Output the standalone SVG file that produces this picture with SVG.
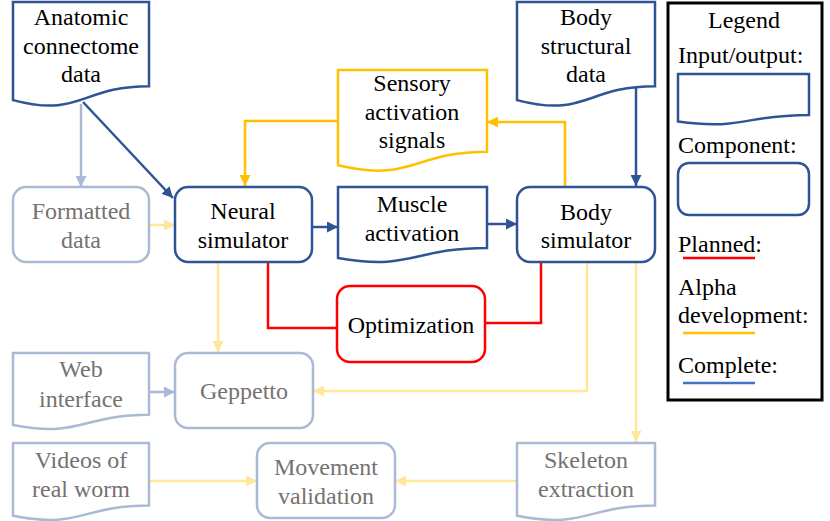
<svg xmlns="http://www.w3.org/2000/svg" width="830" height="521" viewBox="0 0 830 521" font-family="Liberation Serif, Times New Roman, serif">
<defs>
<style>
text{font-size:24px;text-anchor:middle;fill:#000}
.g{fill:#767171}
.l{text-anchor:start}
.nd{fill:#fff;stroke:#2F5496;stroke-width:2.5}
.nl{fill:#fff;stroke:#AAB9D4;stroke-width:2.5}
.no{fill:#fff;stroke:#FFC000;stroke-width:2.5}
.nr{fill:#fff;stroke:#FF0000;stroke-width:2.5}
.c{fill:none;stroke-width:2.5}
.cd{stroke:#2F5496}
.cl{stroke:#AAB9D4}
.co{stroke:#FFC000}
.cy{stroke:#FFE699}
.cr{stroke:#FF0000}
</style>
<marker id="ad" viewBox="0 0 10 10" refX="10" refY="5" markerWidth="11" markerHeight="11" markerUnits="userSpaceOnUse" orient="auto"><path d="M0,0L10,5L0,10z" fill="#2F5496"/></marker>
<marker id="al" viewBox="0 0 10 10" refX="10" refY="5" markerWidth="11" markerHeight="11" markerUnits="userSpaceOnUse" orient="auto"><path d="M0,0L10,5L0,10z" fill="#AAB9D4"/></marker>
<marker id="ao" viewBox="0 0 10 10" refX="10" refY="5" markerWidth="11" markerHeight="11" markerUnits="userSpaceOnUse" orient="auto"><path d="M0,0L10,5L0,10z" fill="#FFC000"/></marker>
<marker id="ay" viewBox="0 0 10 10" refX="10" refY="5" markerWidth="11" markerHeight="11" markerUnits="userSpaceOnUse" orient="auto"><path d="M0,0L10,5L0,10z" fill="#FFE699"/></marker>
</defs>
<rect width="830" height="521" fill="#fff"/>

<g id="connectors">
<path class="c cd" d="M83,102L173,198" marker-end="url(#ad)"/>
<path class="c cl" d="M81,104V187" marker-end="url(#al)"/>
<path class="c cy" d="M149,225H175" marker-end="url(#ay)"/>
<path class="c cd" d="M312,227H338" marker-end="url(#ad)"/>
<path class="c cd" d="M487,224H517" marker-end="url(#ad)"/>
<path class="c co" d="M338,121H245V186" marker-end="url(#ao)"/>
<path class="c co" d="M565,186V122H487" marker-end="url(#ao)"/>
<path class="c cd" d="M636,87V186" marker-end="url(#ad)"/>
<path class="c cr" d="M268,262V328H337"/>
<path class="c cr" d="M485,323H541V262"/>
<path class="c cy" d="M218,262V352" marker-end="url(#ay)"/>
<path class="c cy" d="M587,262V391H313" marker-end="url(#ay)"/>
<path class="c cy" d="M636,262V442" marker-end="url(#ay)"/>
<path class="c cl" d="M149,392H175" marker-end="url(#al)"/>
<path class="c cy" d="M149,481H257" marker-end="url(#ay)"/>
<path class="c cy" d="M517,481H395" marker-end="url(#ay)"/>
</g>

<g id="anatomic">
<path class="nd" d="M13,2H149V86.2C81,86.2 81,118.2 13,100.1Z"/>
<text x="81" y="25">Anatomic</text><text x="81" y="54">connectome</text><text x="81" y="82">data</text>
</g>
<g id="body-structural">
<path class="nd" d="M517,2H655V86.2C586,86.2 586,118.2 517,100.1Z"/>
<text x="586" y="25">Body</text><text x="586" y="54">structural</text><text x="586" y="82">data</text>
</g>
<g id="sensory">
<path class="no" d="M338,70H487V151.8C412.5,151.8 412.5,182.9 338,165.3Z"/>
<text x="412" y="91">Sensory</text><text x="412" y="120">activation</text><text x="412" y="148">signals</text>
</g>
<g id="formatted">
<rect class="nl" x="13" y="187" width="136" height="75" rx="13"/>
<text class="g" x="81" y="219">Formatted</text><text class="g" x="81" y="248">data</text>
</g>
<g id="neural">
<rect class="nd" x="175" y="187" width="137" height="75" rx="13"/>
<text x="243" y="219">Neural</text><text x="243" y="248">simulator</text>
</g>
<g id="muscle">
<path class="nd" d="M338,187H487V248C412.5,248 412.5,271 338,258Z"/>
<text x="412" y="212">Muscle</text><text x="412" y="241">activation</text>
</g>
<g id="body-sim">
<rect class="nd" x="517" y="187" width="138" height="75" rx="13"/>
<text x="586" y="220">Body</text><text x="586" y="248">simulator</text>
</g>
<g id="optimization">
<rect class="nr" x="337" y="286" width="148" height="76" rx="13"/>
<text x="411" y="333">Optimization</text>
</g>
<g id="web">
<path class="nl" d="M13,353H149V414.8C81,414.8 81,438.2 13,424.9Z"/>
<text class="g" x="81" y="377">Web</text><text class="g" x="81" y="407">interface</text>
</g>
<g id="geppetto">
<rect class="nl" x="175" y="353" width="138" height="75" rx="13"/>
<text class="g" x="244" y="399">Geppetto</text>
</g>
<g id="videos">
<path class="nl" d="M13,443H149V505.5C81,505.5 81,529.3 13,515.8Z"/>
<text class="g" x="81" y="468">Videos of</text><text class="g" x="81" y="497">real worm</text>
</g>
<g id="movement">
<rect class="nl" x="257" y="443" width="138" height="75" rx="13"/>
<text class="g" x="326" y="475">Movement</text><text class="g" x="326" y="504">validation</text>
</g>
<g id="skeleton">
<path class="nl" d="M517,443H655V505.5C586,505.5 586,529.3 517,515.8Z"/>
<text class="g" x="586" y="468">Skeleton</text><text class="g" x="586" y="497">extraction</text>
</g>

<g id="legend">
<rect x="668" y="3" width="154" height="397" fill="#fff" stroke="#000" stroke-width="3"/>
<text x="744" y="28">Legend</text>
<text class="l" x="678" y="63">Input/output:</text>
<path class="nd" d="M678,74H809V114.9C743.5,114.9 743.5,130.5 678,121.6Z"/>
<text class="l" x="678" y="153">Component:</text>
<rect class="nd" x="678" y="163" width="131" height="52" rx="11"/>
<text class="l" x="678" y="252">Planned:</text>
<path class="c cr" d="M683,258H755"/>
<text class="l" x="678" y="295">Alpha</text>
<text class="l" x="678" y="323">development:</text>
<path class="c co" d="M683,333H755"/>
<text class="l" x="678" y="373">Complete:</text>
<path class="c" stroke="#4472C4" d="M683,383H755"/>
</g>
</svg>
